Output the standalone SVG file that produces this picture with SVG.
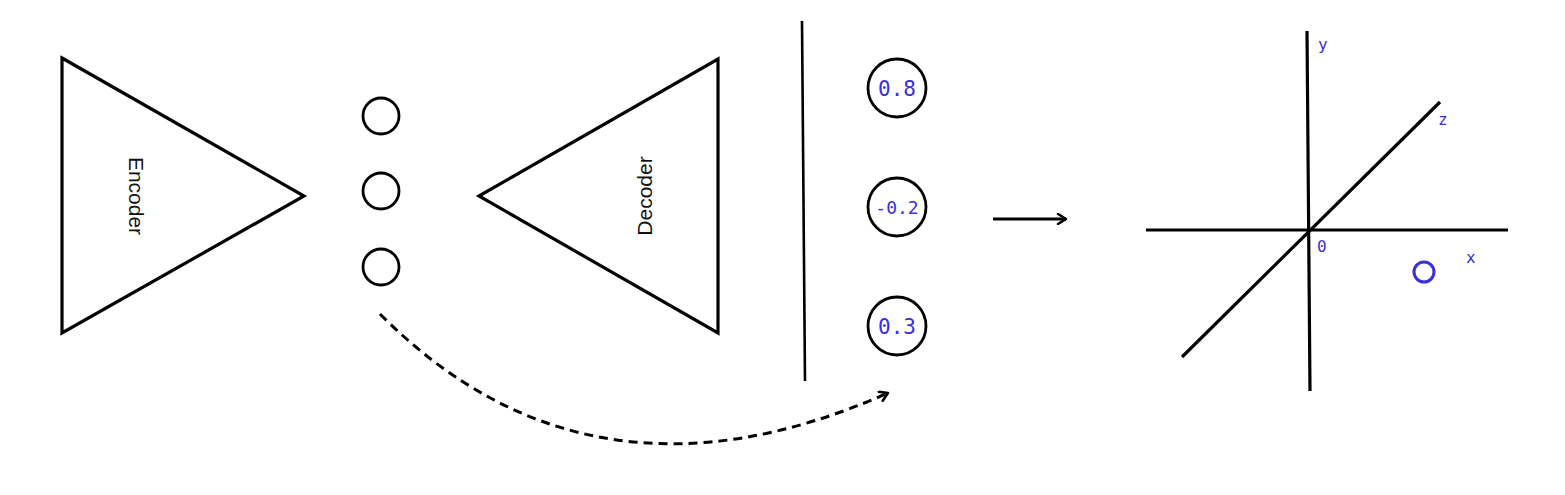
<svg xmlns="http://www.w3.org/2000/svg" width="1565" height="495" viewBox="0 0 1565 495">
<defs>
<style>
.shape{fill:none;stroke:#000;stroke-width:3.2;stroke-linejoin:miter}
.node{fill:none;stroke:#000;stroke-width:2.8}
.lbl{font-family:"Liberation Sans",Arial,sans-serif;font-size:21px;fill:#111}
.val{font-family:"DejaVu Sans Mono","Liberation Mono",monospace;font-size:21px;fill:#3a2fd8;text-anchor:middle}
.ax{font-family:"DejaVu Sans Mono","Liberation Mono",monospace;font-size:16px;fill:#3a2fd8}
.axis{stroke:#000;stroke-width:3.2;fill:none}
</style>
<marker id="open" viewBox="0 0 12 12" refX="10" refY="6" markerWidth="12" markerHeight="12" markerUnits="userSpaceOnUse" orient="auto">
<path d="M2,1 L10,6 L2,11" fill="none" stroke="#000" stroke-width="2.5" stroke-linecap="round" stroke-linejoin="round"/>
</marker>
</defs>
<rect width="1565" height="495" fill="#fff"/>
<g id="encoder">
<polygon class="shape" points="62,58 304,196 62,333"/>
<text class="lbl" transform="translate(129,196) rotate(90)" text-anchor="middle">Encoder</text>
</g>
<g id="latent">
<circle class="node" cx="381" cy="116" r="18"/>
<circle class="node" cx="381" cy="191" r="18"/>
<circle class="node" cx="381" cy="267" r="18"/>
</g>
<g id="decoder">
<polygon class="shape" points="479,196 718,59 718,333"/>
<text class="lbl" transform="translate(652,196) rotate(-90)" text-anchor="middle">Decoder</text>
</g>
<g id="divider">
<line x1="802" y1="21" x2="805" y2="381" stroke="#000" stroke-width="2.6"/>
</g>
<g id="values">
<circle class="node" cx="897" cy="88" r="29"/>
<text class="val" x="897" y="96">0.8</text>
<circle class="node" cx="897" cy="207" r="29"/>
<text class="val" x="897" y="214" style="font-size:18px">-0.2</text>
<circle class="node" cx="897" cy="326" r="29"/>
<text class="val" x="897" y="334">0.3</text>
</g>
<g id="axes">
<line class="axis" x1="1307" y1="31" x2="1310" y2="391"/>
<line class="axis" x1="1146" y1="230" x2="1508" y2="230"/>
<line class="axis" x1="1182" y1="357" x2="1440" y2="102"/>
<text class="ax" x="1318" y="50">y</text>
<text class="ax" x="1438" y="125">z</text>
<text class="ax" x="1317" y="252">0</text>
<text class="ax" x="1466" y="263">x</text>
<circle cx="1424" cy="272" r="10" fill="none" stroke="#3a2fd8" stroke-width="3"/>
</g>
<g id="connectors">
<path d="M380,314 Q590,525 888,393" fill="none" stroke="#000" stroke-width="3" stroke-dasharray="9,6" marker-end="url(#open)"/>
<line x1="993" y1="219" x2="1066" y2="219" stroke="#000" stroke-width="3" marker-end="url(#open)"/>
</g>
</svg>
